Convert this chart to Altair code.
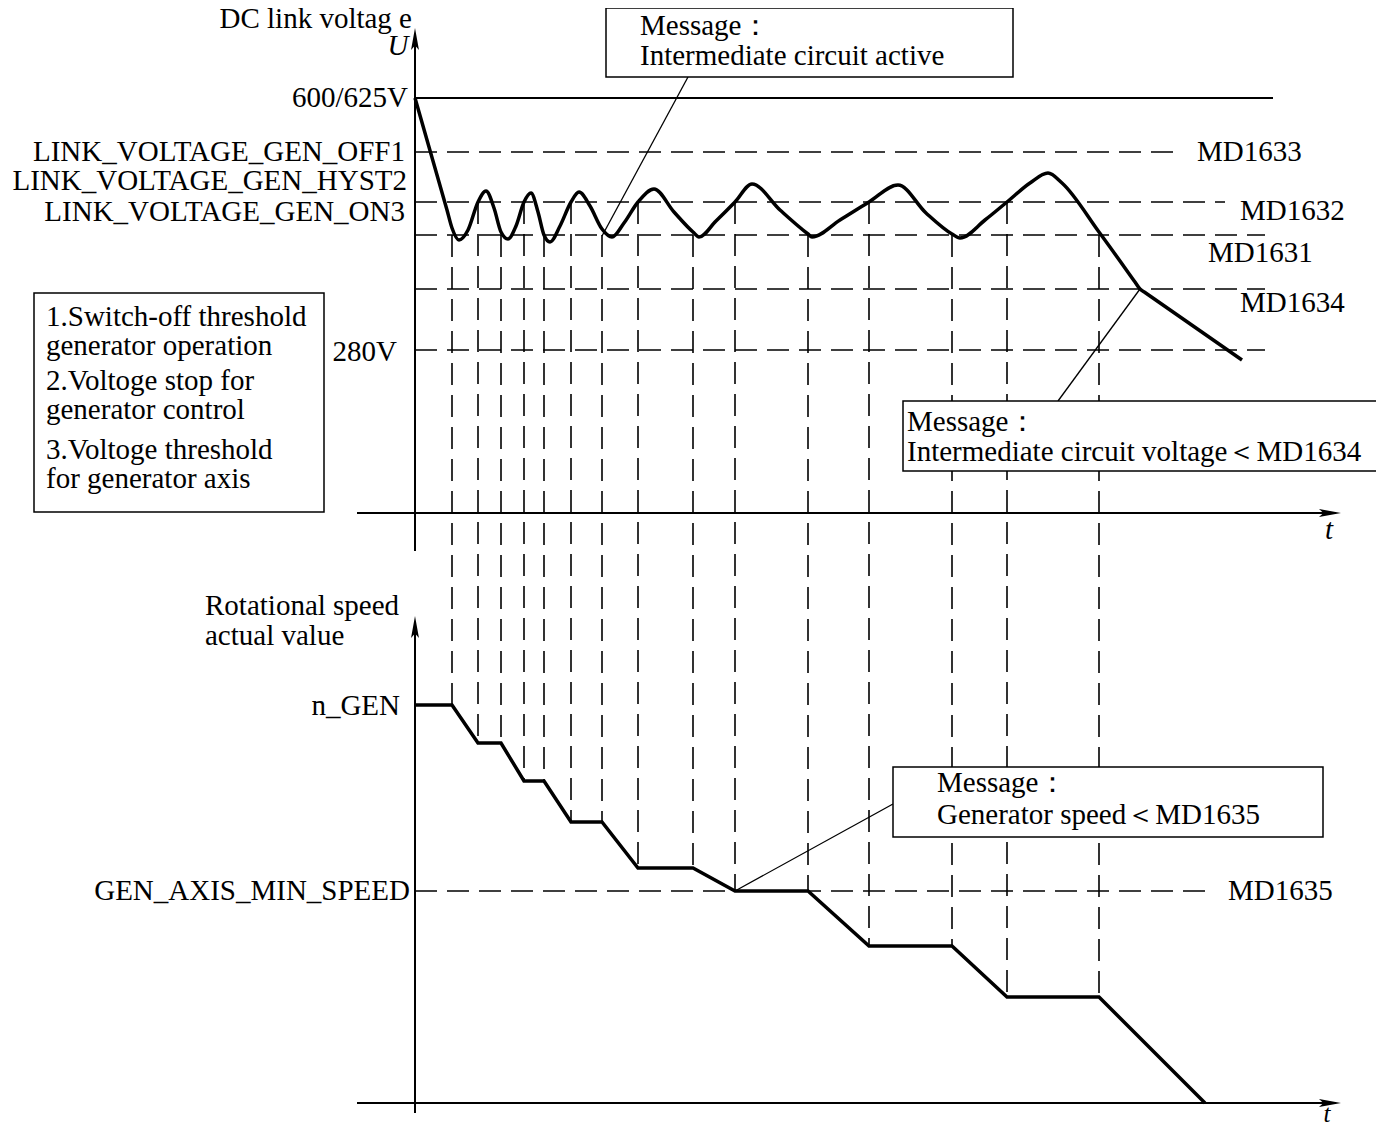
import altair as alt
import pandas as pd

# ---------------- data (diagram units: t to the right, level downward) -------------
# DC link voltage curve
volt_t = [415, 447, 452, 459, 468, 478, 486, 494, 501, 508, 516, 524, 531, 538, 544, 550,
          560, 571, 579, 590, 602, 612, 624, 638, 654, 674, 693, 699, 716, 735, 752, 780,
          808, 812, 840, 869, 898, 926, 952, 960, 985, 1007, 1030, 1048, 1062, 1099, 1135,
          1140, 1145, 1242]
volt_level = [98, 210, 228, 240, 230, 202, 191, 208, 232, 239, 226, 202, 193, 212, 235, 242,
              226, 202, 192, 206, 229, 237, 223, 202, 189, 212, 232, 237, 221, 202, 184, 210,
              234, 237, 220, 202, 185, 213, 234, 238, 220, 202, 183, 173, 183, 232, 282,
              289, 292.5, 360]

# rotational speed curve
speed_t = [415, 452, 478, 501, 524, 544, 571, 602, 638, 693, 735, 808, 869, 952, 1007, 1099, 1205]
speed_level = [705, 705, 743, 743, 781, 781, 822, 822, 868, 868, 891, 891, 946, 946, 997, 997, 1103]

# switching instants (vertical dashed guides)
switch_t = [452, 478, 501, 524, 544, 571, 602, 638, 693, 735, 808, 869, 952, 1007, 1099]
switch_from = [235, 202, 235, 202, 235, 202, 235, 202, 235, 202, 235, 202, 235, 202, 235]
switch_to = [705, 743, 743, 781, 781, 822, 822, 868, 868, 891, 891, 946, 946, 997, 997]

# threshold levels (horizontal dashed guides)
thr_level = [152, 202, 235, 289, 350, 891]
thr_end = [1180, 1225, 1265, 1265, 1265, 1215]

# left-side axis labels (right aligned)
left_labels = ["DC link voltag e", "600/625V", "LINK_VOLTAGE_GEN_OFF1", "LINK_VOLTAGE_GEN_HYST2",
               "LINK_VOLTAGE_GEN_ON3", "280V", "n_GEN", "GEN_AXIS_MIN_SPEED"]
left_x = [412, 408, 405, 407, 405, 397, 400, 410]
left_y = [19, 98, 152, 181, 212, 352, 706, 891]

# left aligned labels
right_labels = ["MD1633", "MD1632", "MD1631", "MD1634", "MD1635",
                "Rotational speed", "actual value",
                "Message：", "Intermediate circuit active",
                "Message：", "Intermediate circuit voltage＜MD1634",
                "Message：", "Generator speed＜MD1635",
                "1.Switch-off threshold", "generator operation", "2.Voltoge stop for",
                "generator control", "3.Voltoge threshold", "for generator axis"]
right_x = [1197, 1240, 1208, 1240, 1228, 205, 205, 640, 640, 907, 907, 937, 937,
           46, 46, 46, 46, 46, 46]
right_y = [152, 211, 253, 303, 891, 606, 636, 26, 56, 422, 452, 783, 815,
           317, 346, 381, 410, 450, 479]

italic_labels = ["U", "t", "t"]
italic_x = [398, 1329, 1327]
italic_y = [46, 530, 1114]
italic_size = [29, 29, 25]

# message boxes
box_x = [606, 903, 893, 34]
box_x2 = [1013, 1378, 1323, 324]
box_y = [8, 401, 767, 293]
box_y2 = [77, 471, 837, 512]

# solid thin lines: axes, 600/625V line, message pointers
solid_x = [415, 357, 415, 357, 415, 688, 1058, 893]
solid_y = [551, 513, 1113, 1103, 98, 77, 401, 804]
solid_x2 = [415, 1336, 415, 1336, 1273, 602, 1140, 735]
solid_y2 = [34, 513, 622, 1103, 98, 236, 289, 891]
solid_w = [2, 2, 2, 2, 2, 1.3, 1.3, 1.3]

# arrow heads
up_arrow_x = [415, 415]
up_arrow_y = [28, 616]
right_arrow_x = [1341, 1341]
right_arrow_y = [513, 1103]

# ---------------- chart -------------
FONT = "Liberation Serif"
FS = 29
xs = alt.Scale(domain=[8, 1376], nice=False, zero=False)
ys = alt.Scale(domain=[8, 1122], nice=False, zero=False, reverse=True)


def X(f):
    return alt.X(f, type="quantitative", scale=xs, axis=None)


def Y(f):
    return alt.Y(f, type="quantitative", scale=ys, axis=None)


thr_df = pd.DataFrame({"x": [415] * len(thr_level), "x2": thr_end, "y": thr_level})
thr = alt.Chart(thr_df).mark_rule(strokeDash=[22, 10], strokeWidth=1.6, color="black").encode(
    x=X("x"), x2="x2", y=Y("y"))

sw_df = pd.DataFrame({"x": switch_t, "y": switch_from, "y2": switch_to})
sw = alt.Chart(sw_df).mark_rule(strokeDash=[22, 10], strokeWidth=1.6, color="black").encode(
    x=X("x"), y=Y("y"), y2="y2")

sol_df = pd.DataFrame({"x": solid_x, "y": solid_y, "x2": solid_x2, "y2": solid_y2, "w": solid_w})
sol = alt.Chart(sol_df).mark_rule(color="black").encode(
    x=X("x"), y=Y("y"), x2="x2", y2="y2",
    strokeWidth=alt.StrokeWidth("w:Q", scale=None, legend=None))

volt_df = pd.DataFrame({"t": volt_t, "level": volt_level, "o": range(len(volt_t))})
volt = alt.Chart(volt_df).mark_line(color="black", strokeWidth=3.5, interpolate="monotone").encode(
    x=X("t"), y=Y("level"), order="o:Q")

spd_df = pd.DataFrame({"t": speed_t, "level": speed_level, "o": range(len(speed_t))})
spd = alt.Chart(spd_df).mark_line(color="black", strokeWidth=3.5, strokeJoin="miter").encode(
    x=X("t"), y=Y("level"), order="o:Q")

box_df = pd.DataFrame({"x": box_x, "x2": box_x2, "y": box_y, "y2": box_y2})
boxes = alt.Chart(box_df).mark_rect(fill="white", stroke="black", strokeWidth=1.5).encode(
    x=X("x"), x2="x2", y=Y("y"), y2="y2")

lt_df = pd.DataFrame({"x": left_x, "y": left_y, "s": left_labels})
lt = alt.Chart(lt_df).mark_text(align="right", baseline="middle", font=FONT, fontSize=FS,
                                color="black").encode(x=X("x"), y=Y("y"), text="s:N")

rt_df = pd.DataFrame({"x": right_x, "y": right_y, "s": right_labels})
rt = alt.Chart(rt_df).mark_text(align="left", baseline="middle", font=FONT, fontSize=FS,
                                color="black").encode(x=X("x"), y=Y("y"), text="s:N")

it_df = pd.DataFrame({"x": italic_x, "y": italic_y, "s": italic_labels, "fs": italic_size})
it = alt.Chart(it_df).mark_text(align="center", baseline="middle", font=FONT,
                                fontStyle="italic", color="black").encode(
    x=X("x"), y=Y("y"), text="s:N", size=alt.Size("fs:Q", scale=None, legend=None))

ua_df = pd.DataFrame({"x": up_arrow_x, "y": up_arrow_y})
ua = alt.Chart(ua_df).mark_point(shape="M0,0L0.36,2L0,1.6L-0.36,2Z", size=484, filled=True,
                                 color="black", opacity=1).encode(x=X("x"), y=Y("y"))

ra_df = pd.DataFrame({"x": right_arrow_x, "y": right_arrow_y})
ra = alt.Chart(ra_df).mark_point(shape="M0,0L-2,-0.36L-1.6,0L-2,0.36Z", size=484, filled=True,
                                 color="black", opacity=1).encode(x=X("x"), y=Y("y"))

chart = alt.layer(thr, sw, sol, volt, spd, boxes, lt, rt, it, ua, ra).properties(
    width=1368, height=1114, autosize=alt.AutoSizeParams(type="none"), padding=0,
    background="white"
).configure_view(stroke=None)

chart.save("out.html", embed_options={"renderer": "svg", "actions": False})
